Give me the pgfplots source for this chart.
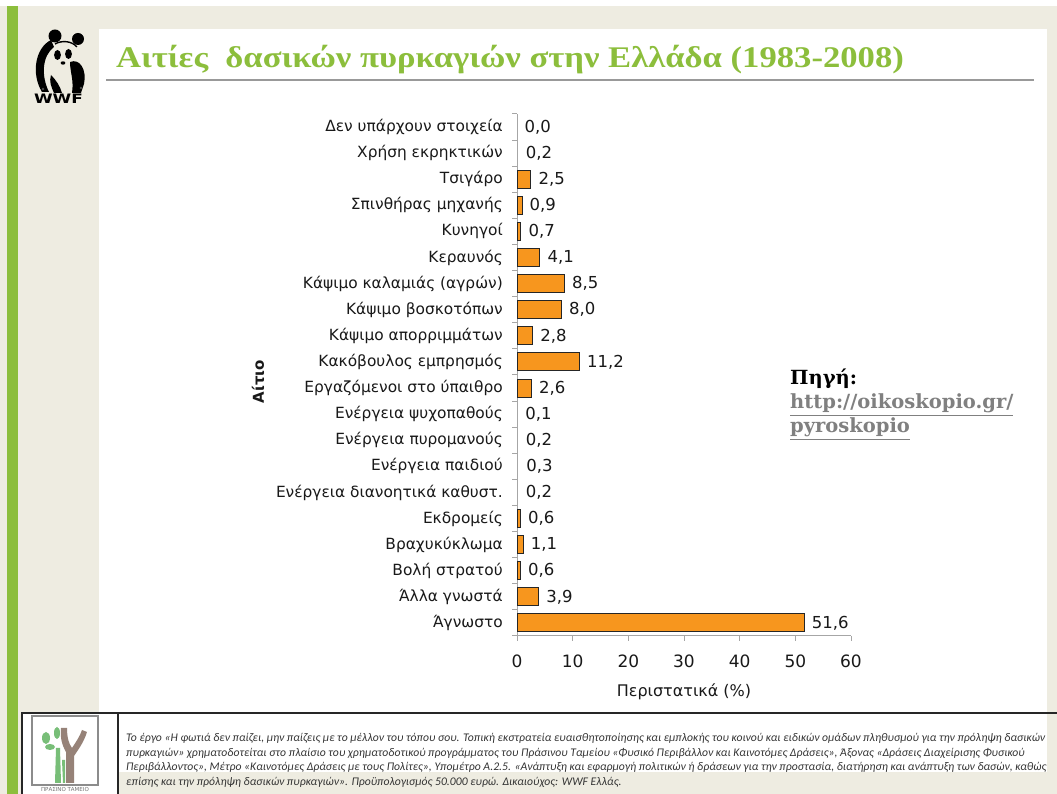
\documentclass[border=0pt]{standalone}
\usepackage{fontspec}
\setmainfont{DejaVu Sans}
\newfontfamily\titlefont{Liberation Serif}
\newfontfamily\srcfont{DejaVu Serif}
\newfontfamily\footfont{Carlito}
\usepackage{pgfplots}
\usepackage{pgfplotstable}
\pgfplotsset{compat=1.18}
\definecolor{bg}{RGB}{238,236,225}
\definecolor{wgreen}{RGB}{140,190,60}
\definecolor{barorange}{RGB}{247,150,30}
\definecolor{lgreen}{RGB}{120,190,120}
\definecolor{tbrown}{RGB}{150,130,120}

\pgfplotstableread{
idx val
19 0.0
18 0.2
17 2.5
16 0.9
15 0.7
14 4.1
13 8.5
12 8.0
11 2.8
10 11.2
9 2.6
8 0.1
7 0.2
6 0.3
5 0.2
4 0.6
3 1.1
2 0.6
1 3.9
0 51.6
}\causes

\begin{document}
\begin{tikzpicture}[x=1pt,y=1pt]
\useasboundingbox (0,0) rectangle (1057,794);
\clip (0,0) rectangle (1057,794);
\begin{scope}[shift={(0,794)}, yscale=-1]
  % background
  \fill[bg] (0,0) rectangle (1057,794);
  \fill[white] (0,0) rectangle (1057,6);
  \fill[wgreen] (7,6) rectangle (18,794);
  \fill[white] (99,29) rectangle (1047,772);
  \fill[white] (22,713) rectangle (118,794);
  % title
  \node[anchor=base west, text=wgreen, inner sep=0pt, xscale=1.155, font=\titlefont\bfseries\fontsize{30}{30}\selectfont] at (116,68) {Αιτίες\ \ δασικών πυρκαγιών στην Ελλάδα (1983-2008)};
  \draw[black!40, line width=2pt] (106,80) -- (1034,80);
  % WWF panda
  \fill[black] (55,36) circle (6.5);
  \fill[black] (78,39) circle (6);
  \fill[black] (51,40) .. controls (35,48) and (31,74) .. (42,92) -- (49,92) .. controls (41,76) and (42,56) .. (54,47) -- cycle;
  \fill[black] (57.5,55) ellipse (3.4 and 5);
  \fill[black] (68.5,54) ellipse (3.4 and 5);
  \fill[black] (63,63) ellipse (2.4 and 1.7);
  \fill[black] (70,62) .. controls (80,58) and (87,70) .. (84,84) -- (81,93) -- (72,93) .. controls (74,80) and (70,72) .. cycle;
  \fill[black] (51,75) .. controls (56,80) and (60,86) .. (62,93) -- (54,93) .. controls (51,86) and (49,82) .. cycle;
  \draw[black, line width=1.4pt] (55,44) .. controls (62,40) and (72,41) .. (77,47);
  \fill[black!70] (43,89) circle (1.3);
  \fill[black!70] (81,88) circle (1.3);
  \node[inner sep=0pt, font=\bfseries\fontsize{13}{13}\selectfont, xscale=1.3] at (58.5,98.5) {WWF};
  % source
  \node[anchor=base west, inner sep=0pt, font=\srcfont\bfseries\fontsize{19.5}{19.5}\selectfont] at (790,385) {Πηγή:};
  \node[anchor=base west, inner sep=0pt, text=black!50, font=\srcfont\bfseries\fontsize{19.5}{19.5}\selectfont] at (790,409) {\underline{http://oikoskopio.gr/}};
  \node[anchor=base west, inner sep=0pt, text=black!50, font=\srcfont\bfseries\fontsize{19.5}{19.5}\selectfont] at (790,433) {\underline{pyroskopio}};
  % footer box
  \draw[black!85, line width=2pt] (22,794) -- (22,713) -- (1057,713);
  \draw[black!85, line width=1.5pt] (118,713) -- (118,794);
  % Prasino Tameio logo
  \draw[black!45, line width=1.2pt] (32,716) rectangle (98,785);
  \fill[tbrown] (66,783) -- (66,752) .. controls (62,745) and (60,738) .. (61,728) -- (67,728) .. controls (67,738) and (69,744) .. (72,748) .. controls (76,742) and (80,736) .. (82,730) -- (87,732) .. controls (84,742) and (78,750) .. (74,756) -- (74,783) -- cycle;
  \fill[lgreen] (55,783) -- (56,748) -- (60,748) -- (61,783) -- cycle;
  \fill[lgreen] (50,747) ellipse (5 and 3);
  \fill[lgreen] (46,738) ellipse (4 and 6);
  \fill[lgreen] (57,733) ellipse (3 and 6);
  \fill[lgreen] (62,760) -- (63,783) -- (65,783) -- (65,760) -- cycle;
  \node[inner sep=0pt, text=black!55, font=\fontsize{5.5}{5.5}\selectfont] at (65,790) {ΠΡΑΣΙΝΟ ΤΑΜΕΙΟ};
  % footer text
  \begin{scope}[every node/.style={anchor=base west, inner sep=0pt, text=black!80, font=\footfont\itshape\fontsize{11.7}{11.7}\selectfont}]
  \node at (126,742) {Το έργο «Η φωτιά δεν παίζει, μην παίζεις με το μέλλον του τόπου σου. Τοπική εκστρατεία ευαισθητοποίησης και εμπλοκής του κοινού και ειδικών ομάδων πληθυσμού για την πρόληψη δασικών};
  \node at (126,756.5) {πυρκαγιών» χρηματοδοτείται στο πλαίσιο του χρηματοδοτικού προγράμματος του Πράσινου Ταμείου «Φυσικό Περιβάλλον και Καινοτόμες Δράσεις», Άξονας «Δράσεις Διαχείρισης Φυσικού};
  \node at (126,771) {Περιβάλλοντος», Μέτρο «Καινοτόμες Δράσεις με τους Πολίτες», Υπομέτρο Α.2.5. «Ανάπτυξη και εφαρμογή πολιτικών ή δράσεων για την προστασία, διατήρηση και ανάπτυξη των δασών, καθώς};
  \node at (126,785.5) {επίσης και την πρόληψη δασικών πυρκαγιών». Προϋπολογισμός 50.000 ευρώ. Δικαιούχος: WWF Ελλάς.};
  \end{scope}
\end{scope}

\begin{axis}[
  at={(517pt,158pt)}, anchor=south west,
  scale only axis, width=334pt, height=522pt,
  xmin=0, xmax=60, ymin=-0.5, ymax=19.5,
  axis x line*=bottom, axis y line*=left,
  axis line style={-, draw=black!35, line width=1pt},
  tick style={draw=black!35, line width=1pt},
  tick align=outside, major tick length=5pt,
  xtick={0,10,...,60},
  ytick={-0.5,0.5,...,19.5}, yticklabels={},
  extra y ticks={0,...,19},
  extra y tick style={tick style={draw=none}},
  extra y tick labels={Άγνωστο, Άλλα γνωστά, Βολή στρατού, Βραχυκύκλωμα, Εκδρομείς, Ενέργεια διανοητικά καθυστ., Ενέργεια παιδιού, Ενέργεια πυρομανούς, Ενέργεια ψυχοπαθούς, Εργαζόμενοι στο ύπαιθρο, Κακόβουλος εμπρησμός, Κάψιμο απορριμμάτων, Κάψιμο βοσκοτόπων, Κάψιμο καλαμιάς (αγρών), Κεραυνός, Κυνηγοί, Σπινθήρας μηχανής, Τσιγάρο, Χρήση εκρηκτικών, Δεν υπάρχουν στοιχεία},
  yticklabel style={font=\fontsize{15.4}{15.4}\selectfont, text=black!90, inner sep=0pt, xshift=-9pt},
  xticklabel style={font=\fontsize{17}{17}\selectfont, text=black!90, inner sep=0pt, yshift=-14pt},
  /pgf/number format/assume math mode=true,
  xlabel={Περιστατικά (\%)},
  xlabel style={font=\fontsize{16}{16}\selectfont, text=black!90, at={(axis description cs:0.5,-0.1073)}, anchor=center},
  ylabel={Αίτιο},
  ylabel style={font=\bfseries\fontsize{15}{15}\selectfont, text=black!90, at={(axis description cs:-0.7754,0.487)}, anchor=center},
  clip=false,
]
\addplot[xbar, bar width=18pt, bar shift=0pt, fill=barorange, draw=black!85, line width=0.9pt, restrict x to domain=0.35:100] table[x=val, y=idx]{\causes};
\addplot[draw=none, mark=none, point meta=x,
  nodes near coords={\pgfmathprintnumber[fixed,fixed zerofill,precision=1,use comma,assume math mode=true]{\pgfplotspointmeta}},
  nodes near coords style={anchor=west, inner sep=0pt, xshift=7.5pt, font=\fontsize{16.5}{16.5}\selectfont, text=black!90}] table[x=val, y=idx]{\causes};
\end{axis}
\end{tikzpicture}
\end{document}
